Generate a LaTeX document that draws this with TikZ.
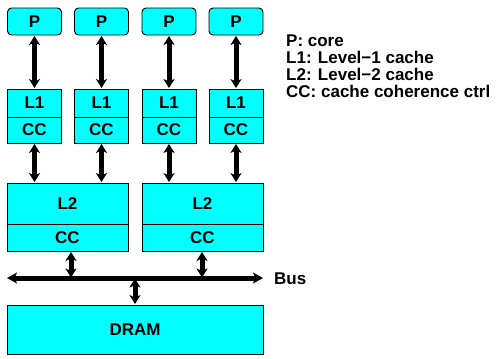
\documentclass[tikz,border=0pt]{standalone}
\usepackage{fontspec}
\setmainfont{Liberation Sans}
\usetikzlibrary{arrows.meta}
\definecolor{boxcyan}{RGB}{0,255,255}
\begin{document}
\begin{tikzpicture}[x=1pt,y=-1pt,
  lbl/.style={font=\fontsize{17}{19}\selectfont\bfseries},
  box/.style={draw=black, fill=boxcyan, line width=0.9pt, inner sep=0pt, lbl},
  pbox/.style={box, rounded corners=4pt, minimum width=54pt, minimum height=27pt},
  l1box/.style={box, minimum width=54pt, minimum height=28pt},
  c1box/.style={box, minimum width=54pt, minimum height=26pt},
  l2box/.style={box, minimum width=121pt, minimum height=41pt},
  c2box/.style={box, minimum width=121pt, minimum height=27pt},
  dbl/.style={line width=5pt, {Stealth[length=9pt,width=11pt,inset=2.5pt]}-{Stealth[length=9pt,width=11pt,inset=2.5pt]}, shorten <=0.5pt, shorten >=0.5pt},
  legend/.style={anchor=base west, inner sep=0pt, font=\fontsize{17}{19}\selectfont\bfseries}]
\path[use as bounding box] (0,0) rectangle (496,359);
\foreach \i/\cx in {1/34.5, 2/101.5, 3/169, 4/236} {
  \node[pbox] (p\i) at (\cx,21.5) {P};
  \node[l1box] (l\i) at (\cx,103) {L1};
  \node[c1box] (c\i) at (\cx,130) {CC};
}
\node[l2box] (l2a) at (67.5,203.5) {L2};
\node[c2box] (c2a) at (67.5,237.5) {CC};
\node[l2box] (l2b) at (202.5,203.5) {L2};
\node[c2box] (c2b) at (202.5,237.5) {CC};
\node[box, minimum width=256pt, minimum height=49pt] (dram) at (135,329.5) {DRAM};
\foreach \i in {1,2,3,4} {
  \draw[dbl] (p\i.south) -- (l\i.north);
}
\draw[dbl] (c1.south) -- (c1.south |- l2a.north);
\draw[dbl] (c2.south) -- (c2.south |- l2a.north);
\draw[dbl] (c3.south) -- (c3.south |- l2b.north);
\draw[dbl] (c4.south) -- (c4.south |- l2b.north);
\coordinate (busL) at (7,278);
\coordinate (busR) at (263,278);
\coordinate (ba) at (71,278);
\coordinate (bb) at (202,278);
\coordinate (bd) at (135,278);
\draw[line width=5pt, {Stealth[length=10pt,width=11pt,inset=2.5pt]}-{Stealth[length=10pt,width=11pt,inset=2.5pt]}] (busL) -- (busR);
\draw[dbl] (ba |- c2a.south) -- (ba);
\draw[dbl] (bb |- c2b.south) -- (bb);
\draw[dbl] (bd) -- (dram.north);
\node[lbl, anchor=west, inner sep=0pt] (bus) at (274,279) {Bus};
\node[legend] (lg1) at (286,46) {P: core};
\node[legend] (lg2) at (286,63) {L1: Level\textminus1 cache};
\node[legend] (lg3) at (286,80) {L2: Level\textminus2 cache};
\node[legend] (lg4) at (286,97) {CC: cache coherence ctrl};
\end{tikzpicture}
\end{document}
